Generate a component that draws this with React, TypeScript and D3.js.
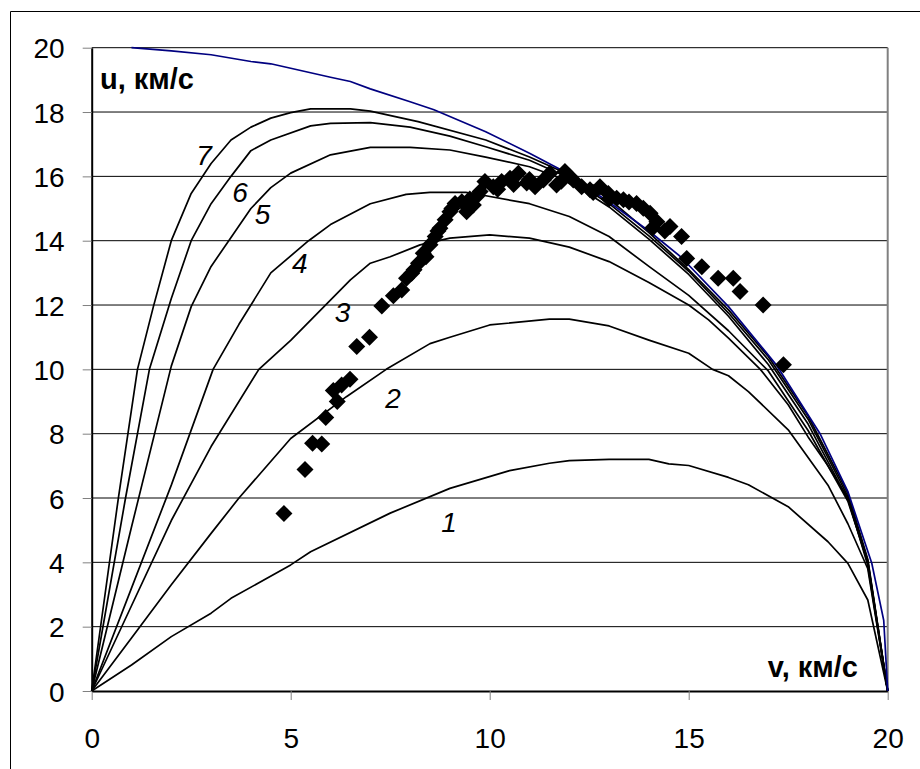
import * as d3 from "d3";
import { useRef, useEffect } from "react";

// curves 1..7 (v, u), km/s
const curve1V = [0, 1, 2, 3, 3.5, 5, 5.5, 7.5, 9, 10.5, 11.5, 12, 13, 14, 14.5, 15, 16, 16.5, 17.5, 18.5, 19, 19.5, 20];
const curve1U = [0, 0.81, 1.69, 2.42, 2.88, 3.92, 4.33, 5.53, 6.3, 6.85, 7.08, 7.16, 7.2, 7.2, 7.06, 7.01, 6.64, 6.41, 5.73, 4.64, 3.97, 2.83, 0];

const curve2V = [0, 1, 2, 3, 3.7, 5, 6.4, 7.4, 8.5, 9, 10, 11.5, 12, 13, 14, 15, 15.6, 16, 16.5, 17.5, 18.5, 19, 19.5, 20];
const curve2U = [0, 1.65, 3.3, 4.9, 6.0, 7.85, 9.15, 10.0, 10.8, 11.0, 11.38, 11.56, 11.56, 11.35, 10.91, 10.5, 10.0, 9.8, 9.31, 8.12, 6.4, 5.2, 3.8, 0];

const curve3V = [0, 1, 2, 3, 4.2, 5, 6.5, 7, 7.5, 8.25, 9, 10, 11, 12, 13, 14, 15, 15.5, 16, 16.8, 17.5, 18, 18.5, 19, 19.5, 20];
const curve3U = [0, 2.65, 5.3, 7.6, 10.0, 10.9, 12.78, 13.3, 13.5, 13.87, 14.08, 14.18, 14.08, 13.8, 13.35, 12.7, 12.0, 11.54, 10.97, 10.0, 8.9, 7.9, 7.0, 6.0, 3.9, 0];

const curve4V = [0, 1, 2, 3.05, 3.7, 4.5, 5.45, 6, 7, 7.9, 8.5, 9.4, 9.8, 11, 12, 13, 14, 15, 16, 17, 18, 19, 19.5, 20];
const curve4U = [0, 3.2, 6.4, 10.0, 11.4, 13.0, 14.0, 14.5, 15.15, 15.44, 15.5, 15.5, 15.42, 15.15, 14.75, 14.13, 13.2, 12.3, 11.2, 9.95, 8.1, 5.9, 4.0, 0];

const curve5V = [0, 1, 2, 2.5, 3, 3.5, 4, 4.5, 5, 6, 7, 8, 9, 9.9, 11, 12, 13, 14, 15, 16, 17, 18, 19, 19.5, 20];
const curve5U = [0, 5.1, 10.1, 11.95, 13.2, 14.1, 15.0, 15.65, 16.1, 16.67, 16.9, 16.9, 16.82, 16.6, 16.3, 15.85, 15.05, 14.05, 12.95, 11.65, 10.15, 8.3, 5.95, 4.0, 0];

const curve6V = [0, 0.85, 1.45, 2, 2.5, 3, 3.5, 4, 4.5, 5.5, 6, 7, 8, 9, 9.9, 11, 12, 13, 14, 15, 16, 17, 18, 19, 19.5, 20];
const curve6U = [0, 6.0, 10.0, 12.2, 14.0, 15.15, 16.0, 16.8, 17.13, 17.57, 17.65, 17.67, 17.53, 17.25, 16.92, 16.5, 15.95, 15.15, 14.15, 13.05, 11.75, 10.3, 8.45, 6.05, 4.05, 0];

const curve7V = [0, 0.67, 1.15, 1.55, 2, 2.5, 3, 3.5, 4, 4.5, 5, 5.5, 6.5, 7, 8.2, 9.9, 11, 12, 13, 14, 15, 16, 17, 18, 19, 19.5, 20];
const curve7U = [0, 6.0, 10.0, 11.95, 14.0, 15.47, 16.4, 17.13, 17.53, 17.81, 17.98, 18.1, 18.1, 18.03, 17.7, 17.13, 16.6, 16.05, 15.3, 14.25, 13.1, 11.85, 10.4, 8.55, 6.15, 4.1, 0];

// blue envelope
const envelopeV = [1, 2, 3, 4, 4.5, 5, 6, 6.5, 7, 8, 8.6, 9.9, 11, 11.8, 13, 14, 14.8, 16, 17.2, 18.3, 19, 19.6, 19.9, 20];
const envelopeU = [20.0, 19.9, 19.78, 19.57, 19.5, 19.36, 19.08, 18.95, 18.72, 18.32, 18.07, 17.39, 16.72, 16.2, 15.2, 14.3, 13.5, 11.95, 10.14, 8.0, 6.2, 3.97, 2.2, 0];

// measured points
const pointsV = [4.83, 5.36, 5.55, 5.78, 5.88, 6.07, 6.17, 6.28, 6.49, 6.66, 6.98, 7.29, 7.58, 7.79, 7.91, 8.04, 8.1, 8.21, 8.33, 8.4, 8.5, 8.63, 8.7, 8.75, 8.88, 9.0, 9.05, 9.13, 9.3, 9.42, 9.5, 9.59, 9.67, 9.76, 9.88, 10.09, 10.2, 10.3, 10.51, 10.6, 10.72, 10.93, 11.0, 11.14, 11.35, 11.51, 11.68, 11.8, 11.89, 12.0, 12.1, 12.31, 12.52, 12.6, 12.77, 12.98, 13.0, 13.19, 13.36, 13.5, 13.69, 13.86, 14.03, 14.1, 14.2, 14.4, 14.53, 14.82, 14.95, 15.33, 15.74, 16.12, 16.29, 16.87, 17.38];
const pointsU = [5.52, 6.89, 7.7, 7.68, 8.5, 9.34, 9.0, 9.51, 9.69, 10.71, 11.0, 11.97, 12.29, 12.47, 12.83, 12.99, 13.1, 13.3, 13.61, 13.5, 13.87, 14.13, 14.3, 14.39, 14.65, 14.9, 15.0, 15.16, 15.21, 14.9, 15.3, 15.11, 15.37, 15.53, 15.84, 15.68, 15.6, 15.84, 15.94, 15.75, 16.1, 15.79, 15.9, 15.68, 15.89, 16.1, 15.73, 15.85, 16.15, 16.0, 15.89, 15.68, 15.58, 15.5, 15.68, 15.47, 15.3, 15.32, 15.27, 15.2, 15.16, 15.01, 14.85, 14.4, 14.59, 14.3, 14.44, 14.13, 13.45, 13.19, 12.83, 12.83, 12.42, 12.0, 10.14];

const curveNames = ["1", "2", "3", "4", "5", "6", "7"];
const labelV = [8.98, 7.57, 6.3, 5.23, 4.29, 3.73, 2.82];
const labelU = [5.25, 9.11, 11.78, 13.31, 14.83, 15.52, 16.67];

const xTicks = [0, 5, 10, 15, 20];
const yTicks = [0, 2, 4, 6, 8, 10, 12, 14, 16, 18, 20];

const FONT = "'Liberation Sans', Arial, sans-serif";

function App() {
  const svgRef = useRef(null);

  useEffect(() => {
    document.body.style.margin = "0";
    const WIDTH = 920;
    const HEIGHT = 769;

    const svg = d3.select(svgRef.current)
      .attr("width", WIDTH)
      .attr("height", HEIGHT);
    svg.selectAll("*").remove();

    const x = d3.scaleLinear().domain([0, 20]).range([91.7, 887.7]);
    const y = d3.scaleLinear().domain([0, 20]).range([691, 47.7]);

    // outer frame (only left and top are inside the picture)
    svg.append("path")
      .attr("d", `M10.5,${HEIGHT} V11.5 H${WIDTH}`)
      .attr("fill", "none")
      .attr("stroke", "#000")
      .attr("stroke-width", 1);

    // horizontal grid
    svg.append("g").selectAll("line")
      .data(yTicks.filter((t) => t > 0))
      .join("line")
      .attr("x1", x(0))
      .attr("x2", x(20))
      .attr("y1", (d) => y(d))
      .attr("y2", (d) => y(d))
      .attr("stroke", "#000")
      .attr("stroke-width", 1);

    // right border of plot area
    svg.append("line")
      .attr("x1", x(20)).attr("x2", x(20))
      .attr("y1", y(20)).attr("y2", y(0))
      .attr("stroke", "#808080")
      .attr("stroke-width", 2);

    // axes
    const yAxis = svg.append("g")
      .attr("transform", `translate(${x(0)},0)`)
      .call(d3.axisLeft(y).tickValues(yTicks).tickSize(9).tickSizeOuter(0).tickPadding(18));
    yAxis.select(".domain").attr("stroke", "#000").attr("stroke-width", 2);
    yAxis.selectAll(".tick line").attr("stroke", "#808080").attr("stroke-width", 1);
    yAxis.selectAll("text")
      .attr("font-family", FONT)
      .attr("font-size", 28)
      .attr("fill", "#000")
      .attr("dy", "0.36em");

    const xAxis = svg.append("g")
      .attr("transform", `translate(0,${y(0)})`)
      .call(d3.axisBottom(x).tickValues(xTicks).tickSize(9).tickSizeOuter(0));
    xAxis.select(".domain").attr("stroke", "#000").attr("stroke-width", 2);
    xAxis.selectAll(".tick line").attr("stroke", "#808080").attr("stroke-width", 1);
    xAxis.selectAll("text")
      .attr("font-family", FONT)
      .attr("font-size", 28)
      .attr("fill", "#000")
      .attr("y", 57)
      .attr("dy", 0);

    const line = d3.line().x((d) => x(d[0])).y((d) => y(d[1]));

    const curves = [
      [curve1V, curve1U],
      [curve2V, curve2U],
      [curve3V, curve3U],
      [curve4V, curve4U],
      [curve5V, curve5U],
      [curve6V, curve6U],
      [curve7V, curve7U],
    ].map(([vs, us]) => vs.map((v, i) => [v, us[i]]));

    svg.append("g").selectAll("path")
      .data(curves)
      .join("path")
      .attr("d", line)
      .attr("fill", "none")
      .attr("stroke", "#000")
      .attr("stroke-width", 1.7)
      .attr("stroke-linejoin", "round");

    svg.append("path")
      .attr("d", line(envelopeV.map((v, i) => [v, envelopeU[i]])))
      .attr("fill", "none")
      .attr("stroke", "#000080")
      .attr("stroke-width", 1.7);

    // diamonds
    const r = 8.5;
    svg.append("g").selectAll("path")
      .data(pointsV.map((v, i) => [v, pointsU[i]]))
      .join("path")
      .attr("d", (d) => {
        const cx = x(d[0]);
        const cy = y(d[1]);
        return `M${cx},${cy - r}L${cx + r},${cy}L${cx},${cy + r}L${cx - r},${cy}Z`;
      })
      .attr("fill", "#000");

    // curve numbers
    svg.append("g").selectAll("text")
      .data(curveNames)
      .join("text")
      .attr("x", (d, i) => x(labelV[i]))
      .attr("y", (d, i) => y(labelU[i]))
      .attr("dy", "0.36em")
      .attr("text-anchor", "middle")
      .attr("font-family", FONT)
      .attr("font-size", 28)
      .attr("font-style", "italic")
      .text((d) => d);

    // axis titles
    svg.append("text")
      .attr("x", 100)
      .attr("y", 89)
      .attr("font-family", FONT)
      .attr("font-size", 29)
      .attr("font-weight", "bold")
      .text("u, км/с");

    svg.append("text")
      .attr("x", 858)
      .attr("y", 677)
      .attr("text-anchor", "end")
      .attr("font-family", FONT)
      .attr("font-size", 29)
      .attr("font-weight", "bold")
      .text("v, км/с");
  }, []);

  return (
    <div>
      <svg ref={svgRef} style={{ display: "block" }} />
    </div>
  );
}

export default App;
